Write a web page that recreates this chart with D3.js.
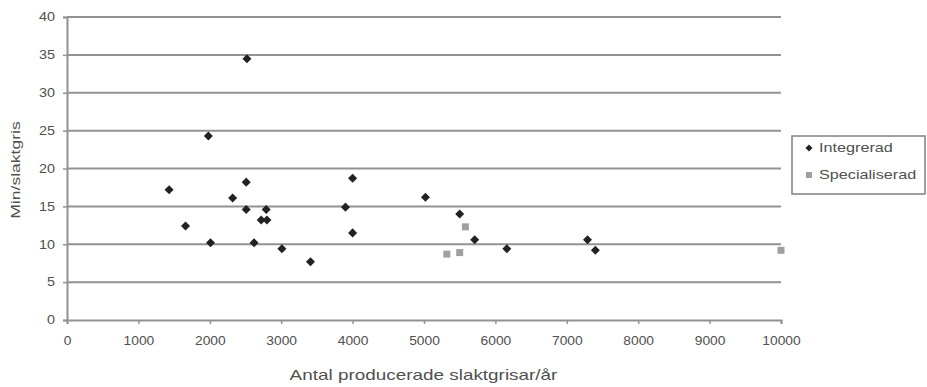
<!DOCTYPE html>
<html>
<head>
<meta charset="utf-8">
<script src="https://cdn.jsdelivr.net/npm/d3@7/dist/d3.min.js"></script>
<style>
  html, body { margin: 0; padding: 0; background: #fff; }
  svg { display: block; font-family: "Liberation Sans", Arial, sans-serif; }
</style>
</head>
<body>
<svg id="chart" width="927" height="387"></svg>
<script>
// Integrerad: produced pigs per year vs. minutes per pig
const integreradX = [1430, 1660, 1980, 2010, 2320, 2520, 2510, 2510, 2620, 2720, 2800, 2790, 3010, 3410, 3900, 4000, 4000, 5020, 5500, 5710, 6160, 7290, 7400];
const integreradY = [17.2, 12.4, 24.3, 10.2, 16.1, 34.5, 18.2, 14.6, 10.2, 13.2, 13.2, 14.6, 9.4, 7.7, 14.9, 18.7, 11.5, 16.2, 14.0, 10.6, 9.4, 10.6, 9.2];

// Specialiserad
const specialiseradX = [5320, 5500, 5580, 10000];
const specialiseradY = [8.7, 8.9, 12.3, 9.2];

const xTicks = [0, 1000, 2000, 3000, 4000, 5000, 6000, 7000, 8000, 9000, 10000];
const yTicks = [0, 5, 10, 15, 20, 25, 30, 35, 40];
const seriesNames = ["Integrerad", "Specialiserad"];

const svg = d3.select("#chart");
const plotLeft = 67, plotRight = 781, plotTop = 17, plotBottom = 320;

const x = d3.scaleLinear().domain([0, 10000]).range([plotLeft, plotRight]);
const y = d3.scaleLinear().domain([0, 40]).range([plotBottom, plotTop]);

const gridColor = "#929292";
const textColor = "#505050";
const wide = 1.3; // horizontal stretch applied to the wide label lettering

// horizontal gridlines
svg.append("g")
  .selectAll("line")
  .data(yTicks.filter(d => d > 0))
  .join("line")
  .attr("x1", plotLeft).attr("x2", plotRight)
  .attr("y1", d => y(d)).attr("y2", d => y(d))
  .attr("stroke", gridColor).attr("stroke-width", 2);

// y axis
const yAxis = svg.append("g")
  .attr("transform", `translate(${plotLeft},0)`)
  .call(d3.axisLeft(y).tickValues(yTicks).tickSize(4).tickPadding(8));
// x axis
const xAxis = svg.append("g")
  .attr("transform", `translate(0,${plotBottom})`)
  .call(d3.axisBottom(x).tickValues(xTicks).tickFormat(d3.format("d")).tickSize(4).tickPadding(12));

[yAxis, xAxis].forEach(g => {
  g.select(".domain").attr("stroke", gridColor).attr("stroke-width", 2);
  g.selectAll(".tick line").attr("stroke", gridColor).attr("stroke-width", 1.5);
  g.selectAll(".tick text").attr("fill", textColor).style("font-size", "12px")
    .style("font-family", "'Liberation Sans', Arial, sans-serif");
});
yAxis.selectAll(".tick text")
  .attr("x", -12 / 1.2)
  .attr("transform", "scale(1.2,1)");
xAxis.selectAll(".tick text")
  .attr("transform", "scale(1.15,1)");

// axis titles
svg.append("text")
  .attr("transform", `translate(${(plotLeft + plotRight) / 2 - 0.5},380) scale(${wide + 0.05},1)`)
  .attr("text-anchor", "middle")
  .attr("fill", textColor).style("font-size", "14px")
  .text("Antal producerade slaktgrisar/år");

svg.append("text")
  .attr("transform", `translate(20,170) rotate(-90) scale(${wide + 0.05},1)`)
  .attr("text-anchor", "middle")
  .attr("fill", textColor).style("font-size", "13px")
  .text("Min/slaktgris");

// markers
const diamond = d3.symbol().type(d3.symbolDiamond2).size(52);
const integrerad = integreradX.map((v, i) => [v, integreradY[i]]);
const specialiserad = specialiseradX.map((v, i) => [v, specialiseradY[i]]);

svg.append("g")
  .selectAll("path")
  .data(integrerad)
  .join("path")
  .attr("d", diamond)
  .attr("transform", d => `translate(${x(d[0])},${y(d[1])})`)
  .attr("fill", "#222");

svg.append("g")
  .selectAll("rect")
  .data(specialiserad)
  .join("rect")
  .attr("x", d => x(d[0]) - 3.5).attr("y", d => y(d[1]) - 3.5)
  .attr("width", 7).attr("height", 7)
  .attr("fill", "#a0a0a0");

// legend
const lg = svg.append("g").attr("transform", "translate(792,136)");
lg.append("rect")
  .attr("x", 0).attr("y", 0).attr("width", 133).attr("height", 58)
  .attr("fill", "#fff").attr("stroke", "#808080").attr("stroke-width", 1.5);
lg.append("path")
  .attr("d", d3.symbol().type(d3.symbolDiamond2).size(32))
  .attr("transform", "translate(17,12)")
  .attr("fill", "#222");
lg.append("rect")
  .attr("x", 14).attr("y", 36).attr("width", 6).attr("height", 6)
  .attr("fill", "#a0a0a0");
lg.selectAll("text.lbl")
  .data(seriesNames)
  .join("text")
  .attr("class", "lbl")
  .attr("transform", (d, i) => `translate(27,${16 + i * 27}) scale(${wide + 0.05},1)`)
  .attr("fill", textColor).style("font-size", "12px")
  .text(d => d);
</script>
</body>
</html>
